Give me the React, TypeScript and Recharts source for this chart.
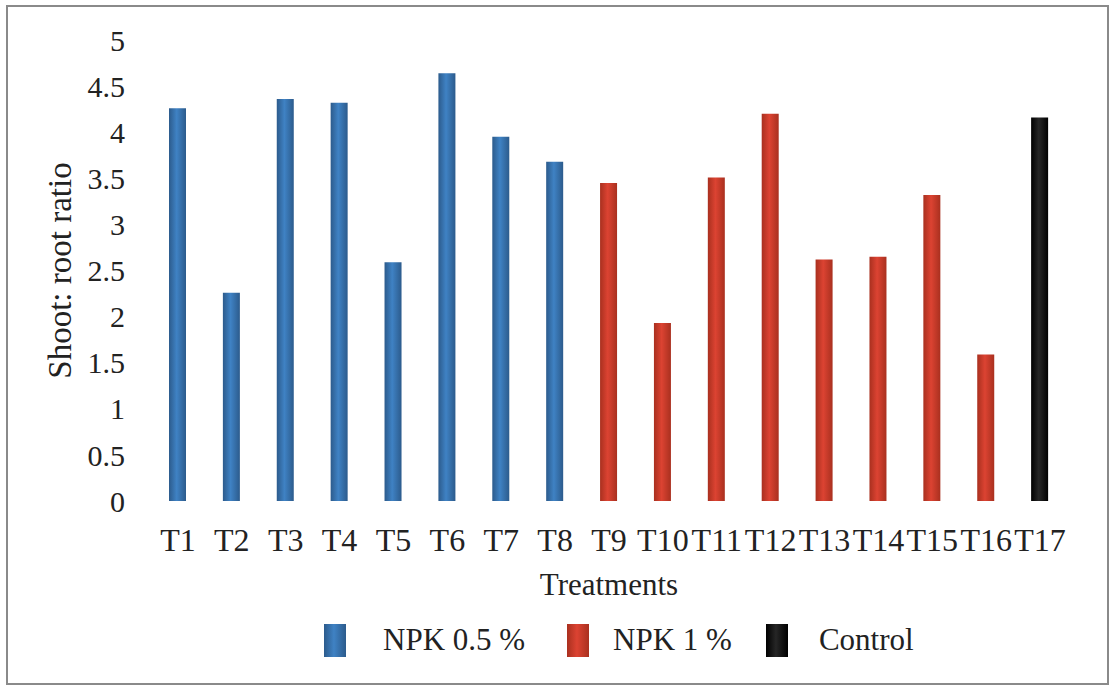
import React from "react";
import { BarChart, Bar, XAxis, YAxis, Cell } from "recharts";

const categories = ["T1","T2","T3","T4","T5","T6","T7","T8","T9","T10","T11","T12","T13","T14","T15","T16","T17"];
const values = [4.26, 2.26, 4.36, 4.32, 2.59, 4.64, 3.95, 3.68, 3.45, 1.93, 3.51, 4.20, 2.62, 2.65, 3.32, 1.59, 4.16];
const groups = ["npk05","npk05","npk05","npk05","npk05","npk05","npk05","npk05","npk1","npk1","npk1","npk1","npk1","npk1","npk1","npk1","control"];
const yTicks = [0, 0.5, 1, 1.5, 2, 2.5, 3, 3.5, 4, 4.5, 5];
const legendItems = [
  { key: "npk05", label: "NPK 0.5 %" },
  { key: "npk1", label: "NPK 1 %" },
  { key: "control", label: "Control" },
];

const palette: Record<string, [string, string]> = {
  npk05: ["#2c5b8c", "#3f82c4"],
  npk1: ["#a9301f", "#dc4332"],
  control: ["#000000", "#262626"],
};

const data = categories.map((c, i) => ({ name: c, value: values[i], group: groups[i] }));

const FONT = '"Liberation Serif", "Times New Roman", Times, serif';

const iconGap = [37, 24, 31];
const itemGap = [42, 34, 0];

export default function App() {
  return (
    <div style={{ position: "absolute", left: 0, top: 0, width: 1112, height: 686, background: "#fff", fontFamily: FONT }}>
      <div style={{ position: "absolute", left: 6, top: 5, width: 1099, height: 676, border: "2px solid #8a8a8a" }} />
      <BarChart
        width={1112}
        height={686}
        data={data}
        margin={{ top: 40, right: 45, left: 0, bottom: 85 }}
        barCategoryGap={0}
        style={{ position: "absolute", left: 0, top: 0, fontFamily: FONT }}
      >
        <defs>
          {Object.keys(palette).map((k) => (
            <linearGradient key={k} id={`grad-${k}`} x1="0" y1="0" x2="1" y2="0">
              <stop offset="0%" stopColor={palette[k][0]} />
              <stop offset="45%" stopColor={palette[k][1]} />
              <stop offset="100%" stopColor={palette[k][0]} />
            </linearGradient>
          ))}
        </defs>
        <XAxis
          dataKey="name"
          axisLine={false}
          tickLine={false}
          interval={0}
          height={100}
          tickMargin={21}
          tick={{ fill: "#222", fontSize: 32, fontFamily: FONT, style: { fontFamily: FONT } }}
          label={{ value: "Treatments", position: "insideBottom", offset: 6, fill: "#222", fontSize: 31, fontFamily: FONT, style: { fontFamily: FONT } }}
        />
        <YAxis
          domain={[0, 5]}
          ticks={yTicks}
          width={151}
          axisLine={false}
          tickLine={false}
          tickMargin={20}
          tick={{ fill: "#222", fontSize: 30, fontFamily: FONT, style: { fontFamily: FONT } }}
          label={{ value: "Shoot: root ratio", angle: -90, position: "insideLeft", offset: 59, style: { textAnchor: "middle", fontFamily: FONT }, fill: "#222", fontSize: 33, fontFamily: FONT }}
        />
        <Bar dataKey="value" barSize={17} isAnimationActive={false}>
          {data.map((d) => (
            <Cell key={d.name} fill={`url(#grad-${d.group})`} />
          ))}
        </Bar>
      </BarChart>
      <div style={{ position: "absolute", left: 324, top: 620, height: 40, display: "flex", alignItems: "center", fontSize: 31, color: "#222", fontFamily: FONT }}>
        {legendItems.map((it, i) => (
          <div key={it.key} style={{ display: "flex", alignItems: "center", marginRight: itemGap[i] }}>
            <div
              style={{
                width: 22,
                height: 33,
                background: `linear-gradient(to right, ${palette[it.key][0]}, ${palette[it.key][1]} 45%, ${palette[it.key][0]})`,
                marginRight: iconGap[i],
              }}
            />
            <span style={{ whiteSpace: "nowrap" }}>{it.label}</span>
          </div>
        ))}
      </div>
    </div>
  );
}
